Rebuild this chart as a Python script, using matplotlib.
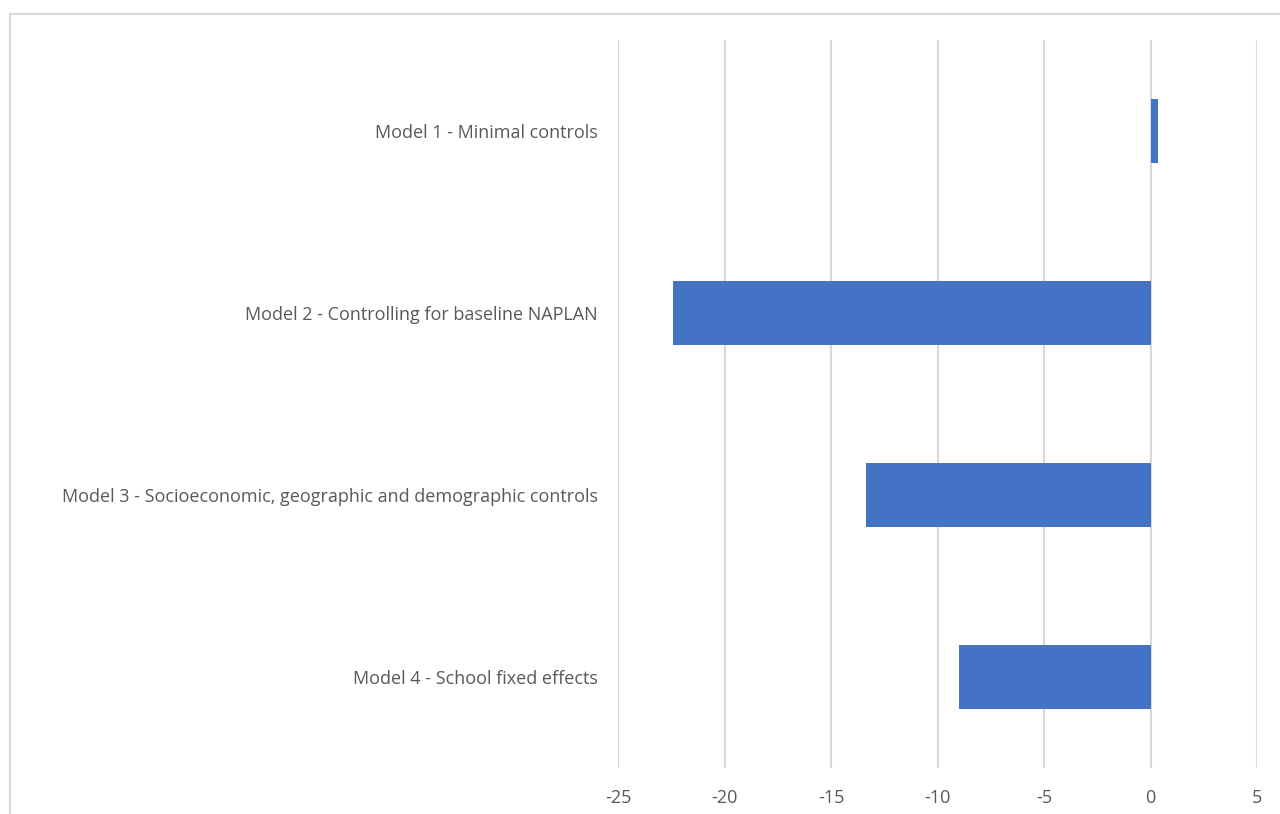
import matplotlib.pyplot as plt
from matplotlib.patches import Rectangle

models = [
    'Model 1 - Minimal controls',
    'Model 2 - Controlling for baseline NAPLAN',
    'Model 3 - Socioeconomic, geographic and demographic controls',
    'Model 4 - School fixed effects',
]
effects = [0.36, -22.4, -13.35, -9.0]
xticks = [-25, -20, -15, -10, -5, 0, 5]

W, H = 1280, 814
fig = plt.figure(figsize=(W / 100, H / 100), dpi=100)
ax = fig.add_axes([618 / W, 1 - 768 / H, (1257 - 618) / W, (768 - 40) / H])

ax.barh(range(len(models)), effects, height=0.355, color='#4472c4', zorder=3)

ax.set_xlim(-25, 5)
ax.set_ylim(3.5, -0.5)
ax.set_xticks(xticks)
ax.set_xticklabels([str(t) for t in xticks])
ax.set_yticks(range(len(models)))
ax.set_yticklabels(models)

ax.grid(axis='x', color='#d9d9d9', linewidth=1.5, zorder=0)
for s in ax.spines.values():
    s.set_visible(False)
ax.tick_params(axis='both', length=0, labelsize=13, labelcolor='#595959')
ax.tick_params(axis='y', pad=14.5)
ax.tick_params(axis='x', pad=15)
for lab in ax.get_xticklabels() + ax.get_yticklabels():
    lab.set_fontfamily('Open Sans')

# chart border (cropped at right and bottom)
fig.patches.append(Rectangle((10 / W, -0.05), 1.1, 1 - 14 / H + 0.05,
                             transform=fig.transFigure, fill=False,
                             edgecolor='#d9d9d9', linewidth=1.5))

fig.savefig('out.png', dpi=100)
